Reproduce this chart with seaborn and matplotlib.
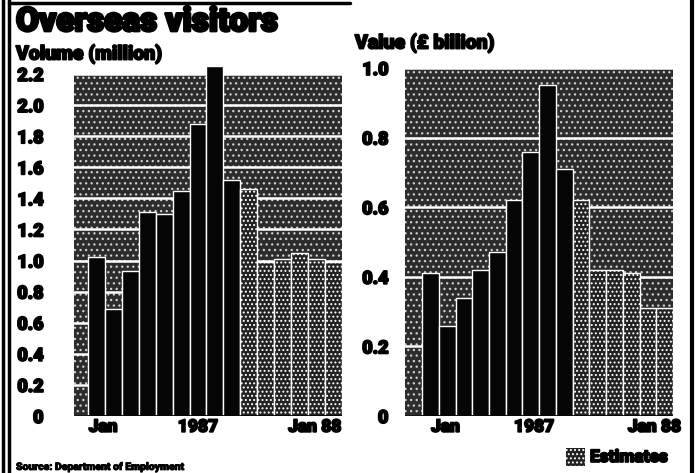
import matplotlib
matplotlib.use("Agg")
import matplotlib.pyplot as plt
import matplotlib.patheffects as pe
import seaborn as sns
import pandas as pd
from matplotlib.patches import Rectangle
from matplotlib.lines import Line2D

# Monthly overseas visitors, Jan 1987 - Mar 1988
months = ["Jan 87", "Feb 87", "Mar 87", "Apr 87", "May 87", "Jun 87", "Jul 87",
          "Aug 87", "Sep 87", "Oct 87", "Nov 87", "Dec 87", "Jan 88", "Feb 88", "Mar 88"]
status = ["Actual"] * 9 + ["Estimates"] * 6
volume_million = [1.02, 0.69, 0.93, 1.31, 1.30, 1.45, 1.88, 2.25, 1.52,
                  1.46, 0.99, 1.01, 1.05, 1.01, 0.99]
value_bn = [0.41, 0.26, 0.34, 0.42, 0.47, 0.62, 0.76, 0.95, 0.71,
            0.62, 0.42, 0.42, 0.41, 0.31, 0.31]

volume_ticks = [0, 0.2, 0.4, 0.6, 0.8, 1.0, 1.2, 1.4, 1.6, 1.8, 2.0, 2.2]
volume_tick_labels = ["0", "0.2", "0.4", "0.6", "0.8", "1.0", "1.2", "1.4", "1.6", "1.8", "2.0", "2.2"]
value_ticks = [0, 0.2, 0.4, 0.6, 0.8, 1.0]
value_tick_labels = ["0", "0.2", "0.4", "0.6", "0.8", "1.0"]
x_labels = ["Jan", "1987", "Jan 88"]

sns.set_theme(style="white")
plt.rcParams["font.family"] = ["Roboto", "DejaVu Sans"]
plt.rcParams["hatch.linewidth"] = 0.9

W, H = 698, 473
fig = plt.figure(figsize=(W / 100, H / 100), dpi=100)
fig.patch.set_facecolor("white")


def box(x0, y0, x1, y1):
    return [x0 / W, 1 - y1 / H, (x1 - x0) / W, (y1 - y0) / H]


BG = "#2c2c2c"
EST = "#222222"
HEAVY = dict(fontweight="black", color="black")


def thick(lw):
    return [pe.withStroke(linewidth=lw, foreground="black")]


def panel(ax, values, ylim, ticks, tick_labels, xlim_left, xtick_pos, ypad):
    df = pd.DataFrame({"month": months, "v": values, "status": status})
    ax.set_facecolor(BG)
    # stipple screen behind the bars
    ax.add_patch(Rectangle((0, 0), 1, 1, transform=ax.transAxes, facecolor="none",
                           edgecolor="#d0d0d0", hatch="...", lw=0, zorder=0.2))
    sns.barplot(data=df, x="month", y="v", hue="status", order=months,
                palette={"Actual": "#050505", "Estimates": EST},
                dodge=False, width=1.0, edgecolor="white", linewidth=1.0,
                legend=False, ax=ax, zorder=2)
    for bar in ax.containers[1]:
        bar.set_hatch("....")
    for c in ax.containers:
        for bar in c:
            bar.set_clip_on(False)
    ax.set_ylim(*ylim)
    ax.set_xlim(xlim_left, len(months) - 0.5)
    ax.set_yticks(ticks)
    ax.set_yticklabels(tick_labels, fontsize=13, **HEAVY)
    ax.set_xticks(xtick_pos)
    ax.set_xticklabels(x_labels, fontsize=12.5, **HEAVY)
    for lbl in ax.get_yticklabels() + ax.get_xticklabels():
        lbl.set_path_effects(thick(1.3))
    ax.tick_params(axis="y", length=0, pad=ypad)
    ax.tick_params(axis="x", length=0, pad=2)
    ax.grid(axis="y", color="white", lw=1.8)
    ax.grid(axis="x", visible=False)
    ax.set_axisbelow(True)
    for s in ax.spines.values():
        s.set_visible(False)
    ax.axhline(0, color="black", lw=2, zorder=3)
    ax.set_xlabel("")
    ax.set_ylabel("")


ax1 = fig.add_axes(box(74, 74, 342, 416))
panel(ax1, volume_million, (0, 2.2), volume_ticks, volume_tick_labels,
      -1.32, [0.4, 6.0, 12.9], 22)

ax2 = fig.add_axes(box(405, 68, 673, 416))
panel(ax2, value_bn, (0, 1.0), value_ticks, value_tick_labels,
      -1.52, [0.9, 6.2, 13.4], 12)

fig.text(16 / W, 1 - 6 / H, "Overseas visitors", fontsize=24, va="top", ha="left",
         path_effects=thick(2.0), **HEAVY)
fig.text(16 / W, 1 - 45 / H, "Volume (million)", fontsize=14, va="top", ha="left",
         path_effects=thick(1.3), **HEAVY)
fig.text(355 / W, 1 - 34 / H, "Value (£ billion)", fontsize=14, va="top", ha="left",
         path_effects=thick(1.3), **HEAVY)

# legend swatch for estimated months
fig.add_artist(Rectangle((566 / W, 1 - 466 / H), 19 / W, 18 / H, transform=fig.transFigure,
                         facecolor=EST, edgecolor="white", hatch="....", lw=0))
fig.text(590 / W, 1 - 457 / H, "Estimates", fontsize=12.5, va="center", ha="left",
         path_effects=thick(1.2), **HEAVY)

fig.text(16 / W, 1 / H, "Source: Department of Employment", fontsize=7.5, va="bottom",
         ha="left", path_effects=thick(0.6), **HEAVY)

# page rules
for x in (3, 9):
    fig.add_artist(Line2D([x / W, x / W], [0, 1], transform=fig.transFigure, color="black", lw=2.5))
fig.add_artist(Line2D([9 / W, 350 / W], [1 - 3 / H, 1 - 3 / H], transform=fig.transFigure,
                      color="black", lw=2.5))
fig.add_artist(Line2D([692 / W, 692 / W], [0, 1], transform=fig.transFigure, color="black", lw=3))

fig.savefig("out.png", dpi=100)
